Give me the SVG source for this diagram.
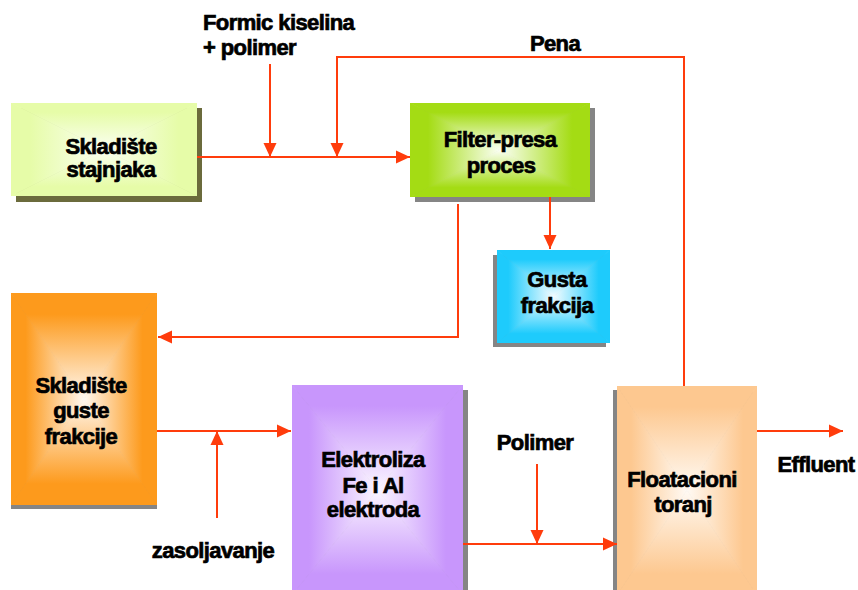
<svg xmlns="http://www.w3.org/2000/svg" width="858" height="590" viewBox="0 0 858 590">
<style>
.t{font-family:"Liberation Sans",Arial,Helvetica,sans-serif;font-weight:bold;font-size:22px;letter-spacing:-0.6px;fill:#000;stroke:#000;stroke-width:0.7px;text-anchor:middle}
.l{text-anchor:start}
.c{fill:none;stroke:#ff3c0c;stroke-width:2}
.sh{fill:#858585}
polygon{stroke-width:0.8px}
</style>
<defs>
<marker id="ah" markerUnits="userSpaceOnUse" markerWidth="14" markerHeight="14" refX="14" refY="7" orient="auto">
<path d="M0,0.5 L14,7 L0,13.5 Z" fill="#ff3c0c"/>
</marker>
<linearGradient id="yT" x1="0" y1="0" x2="0" y2="1"><stop offset="0" stop-color="#e6fca8"/><stop offset="0.2" stop-color="#e6fca8"/><stop offset="1" stop-color="#fbfff2"/></linearGradient>
<linearGradient id="yB" x1="0" y1="1" x2="0" y2="0"><stop offset="0" stop-color="#e6fca8"/><stop offset="0.2" stop-color="#e6fca8"/><stop offset="1" stop-color="#fbfff2"/></linearGradient>
<linearGradient id="yL" x1="0" y1="0" x2="1" y2="0"><stop offset="0" stop-color="#e6fca8"/><stop offset="0.2" stop-color="#e6fca8"/><stop offset="1" stop-color="#fbfff2"/></linearGradient>
<linearGradient id="yR" x1="1" y1="0" x2="0" y2="0"><stop offset="0" stop-color="#e6fca8"/><stop offset="0.2" stop-color="#e6fca8"/><stop offset="1" stop-color="#fbfff2"/></linearGradient>

<linearGradient id="gT" x1="0" y1="0" x2="0" y2="1"><stop offset="0" stop-color="#a4dc14"/><stop offset="0.2" stop-color="#a4dc14"/><stop offset="1" stop-color="#fbfff4"/></linearGradient>
<linearGradient id="gB" x1="0" y1="1" x2="0" y2="0"><stop offset="0" stop-color="#a4dc14"/><stop offset="0.2" stop-color="#a4dc14"/><stop offset="1" stop-color="#fbfff4"/></linearGradient>
<linearGradient id="gL" x1="0" y1="0" x2="1" y2="0"><stop offset="0" stop-color="#a4dc14"/><stop offset="0.2" stop-color="#a4dc14"/><stop offset="1" stop-color="#fbfff4"/></linearGradient>
<linearGradient id="gR" x1="1" y1="0" x2="0" y2="0"><stop offset="0" stop-color="#a4dc14"/><stop offset="0.2" stop-color="#a4dc14"/><stop offset="1" stop-color="#fbfff4"/></linearGradient>

<linearGradient id="bT" x1="0" y1="0" x2="0" y2="1"><stop offset="0" stop-color="#1ecbfc"/><stop offset="0.2" stop-color="#1ecbfc"/><stop offset="1" stop-color="#f4fcff"/></linearGradient>
<linearGradient id="bB" x1="0" y1="1" x2="0" y2="0"><stop offset="0" stop-color="#1ecbfc"/><stop offset="0.2" stop-color="#1ecbfc"/><stop offset="1" stop-color="#f4fcff"/></linearGradient>
<linearGradient id="bL" x1="0" y1="0" x2="1" y2="0"><stop offset="0" stop-color="#1ecbfc"/><stop offset="0.2" stop-color="#1ecbfc"/><stop offset="1" stop-color="#f4fcff"/></linearGradient>
<linearGradient id="bR" x1="1" y1="0" x2="0" y2="0"><stop offset="0" stop-color="#1ecbfc"/><stop offset="0.2" stop-color="#1ecbfc"/><stop offset="1" stop-color="#f4fcff"/></linearGradient>

<linearGradient id="oT" x1="0" y1="0" x2="0" y2="1"><stop offset="0" stop-color="#fd9a1c"/><stop offset="0.2" stop-color="#fd9a1c"/><stop offset="1" stop-color="#fff8f0"/></linearGradient>
<linearGradient id="oB" x1="0" y1="1" x2="0" y2="0"><stop offset="0" stop-color="#fd9a1c"/><stop offset="0.2" stop-color="#fd9a1c"/><stop offset="1" stop-color="#fff8f0"/></linearGradient>
<linearGradient id="oL" x1="0" y1="0" x2="1" y2="0"><stop offset="0" stop-color="#fd9a1c"/><stop offset="0.2" stop-color="#fd9a1c"/><stop offset="1" stop-color="#fff8f0"/></linearGradient>
<linearGradient id="oR" x1="1" y1="0" x2="0" y2="0"><stop offset="0" stop-color="#fd9a1c"/><stop offset="0.2" stop-color="#fd9a1c"/><stop offset="1" stop-color="#fff8f0"/></linearGradient>

<linearGradient id="pT" x1="0" y1="0" x2="0" y2="1"><stop offset="0" stop-color="#c896fc"/><stop offset="0.2" stop-color="#c896fc"/><stop offset="1" stop-color="#fbf6ff"/></linearGradient>
<linearGradient id="pB" x1="0" y1="1" x2="0" y2="0"><stop offset="0" stop-color="#c896fc"/><stop offset="0.2" stop-color="#c896fc"/><stop offset="1" stop-color="#fbf6ff"/></linearGradient>
<linearGradient id="pL" x1="0" y1="0" x2="1" y2="0"><stop offset="0" stop-color="#c896fc"/><stop offset="0.2" stop-color="#c896fc"/><stop offset="1" stop-color="#fbf6ff"/></linearGradient>
<linearGradient id="pR" x1="1" y1="0" x2="0" y2="0"><stop offset="0" stop-color="#c896fc"/><stop offset="0.2" stop-color="#c896fc"/><stop offset="1" stop-color="#fbf6ff"/></linearGradient>

<linearGradient id="fT" x1="0" y1="0" x2="0" y2="1"><stop offset="0" stop-color="#fdc890"/><stop offset="0.2" stop-color="#fdc890"/><stop offset="1" stop-color="#fffaf4"/></linearGradient>
<linearGradient id="fB" x1="0" y1="1" x2="0" y2="0"><stop offset="0" stop-color="#fdc890"/><stop offset="0.2" stop-color="#fdc890"/><stop offset="1" stop-color="#fffaf4"/></linearGradient>
<linearGradient id="fL" x1="0" y1="0" x2="1" y2="0"><stop offset="0" stop-color="#fdc890"/><stop offset="0.2" stop-color="#fdc890"/><stop offset="1" stop-color="#fffaf4"/></linearGradient>
<linearGradient id="fR" x1="1" y1="0" x2="0" y2="0"><stop offset="0" stop-color="#fdc890"/><stop offset="0.2" stop-color="#fdc890"/><stop offset="1" stop-color="#fffaf4"/></linearGradient>
<clipPath id="c1"><rect x="11" y="103" width="186" height="93"/></clipPath>
<clipPath id="c2"><rect x="410" y="103" width="180" height="94"/></clipPath>
<clipPath id="c3"><rect x="497" y="250" width="113" height="93"/></clipPath>
<clipPath id="c4"><rect x="11" y="293" width="146" height="212"/></clipPath>
<clipPath id="c5"><rect x="292" y="385" width="171" height="210"/></clipPath>
<clipPath id="c6"><rect x="617" y="386" width="140" height="209"/></clipPath>
</defs>
<rect width="858" height="590" fill="#fff"/>

<g id="skladiste-stajnjaka">
<rect x="16" y="108" width="186" height="94" fill="#6b6b3c"/>
<g clip-path="url(#c1)">
<polygon points="11,103 197,103 104,149.5" fill="url(#yT)" stroke="url(#yT)"/>
<polygon points="11,196 197,196 104,149.5" fill="url(#yB)" stroke="url(#yB)"/>
<polygon points="11,103 11,196 104,149.5" fill="url(#yL)" stroke="url(#yL)"/>
<polygon points="197,103 197,196 104,149.5" fill="url(#yR)" stroke="url(#yR)"/>
</g>
<text class="t" x="111" y="154">Skladište</text>
<text class="t" x="111" y="177">stajnjaka</text>
</g>

<g id="filter-presa">
<rect x="415" y="108" width="180" height="94" class="sh"/>
<g clip-path="url(#c2)">
<polygon points="410,103 590,103 500,150" fill="url(#gT)" stroke="url(#gT)"/>
<polygon points="410,197 590,197 500,150" fill="url(#gB)" stroke="url(#gB)"/>
<polygon points="410,103 410,197 500,150" fill="url(#gL)" stroke="url(#gL)"/>
<polygon points="590,103 590,197 500,150" fill="url(#gR)" stroke="url(#gR)"/>
</g>
<text class="t" x="500" y="147">Filter-presa</text>
<text class="t" x="501" y="173">proces</text>
</g>

<g id="gusta-frakcija">
<rect x="493" y="255" width="113" height="92" class="sh"/>
<g clip-path="url(#c3)">
<polygon points="497,250 610,250 553.5,296.5" fill="url(#bT)" stroke="url(#bT)"/>
<polygon points="497,343 610,343 553.5,296.5" fill="url(#bB)" stroke="url(#bB)"/>
<polygon points="497,250 497,343 553.5,296.5" fill="url(#bL)" stroke="url(#bL)"/>
<polygon points="610,250 610,343 553.5,296.5" fill="url(#bR)" stroke="url(#bR)"/>
</g>
<text class="t" x="557" y="287">Gusta</text>
<text class="t" x="557" y="313">frakcija</text>
</g>

<g id="skladiste-guste-frakcije">
<rect x="11" y="297" width="146" height="212" class="sh"/>
<g clip-path="url(#c4)">
<polygon points="11,293 157,293 84,399" fill="url(#oT)" stroke="url(#oT)"/>
<polygon points="11,505 157,505 84,399" fill="url(#oB)" stroke="url(#oB)"/>
<polygon points="11,293 11,505 84,399" fill="url(#oL)" stroke="url(#oL)"/>
<polygon points="157,293 157,505 84,399" fill="url(#oR)" stroke="url(#oR)"/>
</g>
<text class="t" x="81" y="393">Skladište</text>
<text class="t" x="81" y="418">guste</text>
<text class="t" x="81" y="444">frakcije</text>
</g>

<g id="elektroliza">
<rect x="297" y="390" width="171" height="205" class="sh"/>
<g clip-path="url(#c5)">
<polygon points="292,385 463,385 377.5,490" fill="url(#pT)" stroke="url(#pT)"/>
<polygon points="292,595 463,595 377.5,490" fill="url(#pB)" stroke="url(#pB)"/>
<polygon points="292,385 292,595 377.5,490" fill="url(#pL)" stroke="url(#pL)"/>
<polygon points="463,385 463,595 377.5,490" fill="url(#pR)" stroke="url(#pR)"/>
</g>
<text class="t" x="373" y="467">Elektroliza</text>
<text class="t" x="373" y="493">Fe i Al</text>
<text class="t" x="373" y="517">elektroda</text>
</g>

<g id="floatacioni-toranj">
<rect x="613" y="390" width="140" height="205" class="sh"/>
<g clip-path="url(#c6)">
<polygon points="617,386 757,386 687,490" fill="url(#fT)" stroke="url(#fT)"/>
<polygon points="617,595 757,595 687,490" fill="url(#fB)" stroke="url(#fB)"/>
<polygon points="617,386 617,595 687,490" fill="url(#fL)" stroke="url(#fL)"/>
<polygon points="757,386 757,595 687,490" fill="url(#fR)" stroke="url(#fR)"/>
</g>
<text class="t" x="682" y="487">Floatacioni</text>
<text class="t" x="683" y="512">toranj</text>
</g>

<g id="connectors">
<path class="c" d="M197,157 H410" marker-end="url(#ah)"/>
<path class="c" d="M270,64 V157" marker-end="url(#ah)"/>
<path class="c" d="M684,386 V57 H337 V157" marker-end="url(#ah)"/>
<path class="c" d="M550,197 V249" marker-end="url(#ah)"/>
<path class="c" d="M458,204 V337 H158" marker-end="url(#ah)"/>
<path class="c" d="M157,431 H291" marker-end="url(#ah)"/>
<path class="c" d="M217,518 V431" marker-end="url(#ah)"/>
<path class="c" d="M463,544 H617" marker-end="url(#ah)"/>
<path class="c" d="M537,464 V544" marker-end="url(#ah)"/>
<path class="c" d="M757,431 H843" marker-end="url(#ah)"/>
</g>

<g id="labels">
<text class="t l" x="203" y="30">Formic kiselina</text>
<text class="t l" x="203" y="55">+ polimer</text>
<text class="t" x="555" y="51">Pena</text>
<text class="t" x="535" y="450">Polimer</text>
<text class="t" x="213" y="558">zasoljavanje</text>
<text class="t" x="816" y="472">Effluent</text>
</g>
</svg>
